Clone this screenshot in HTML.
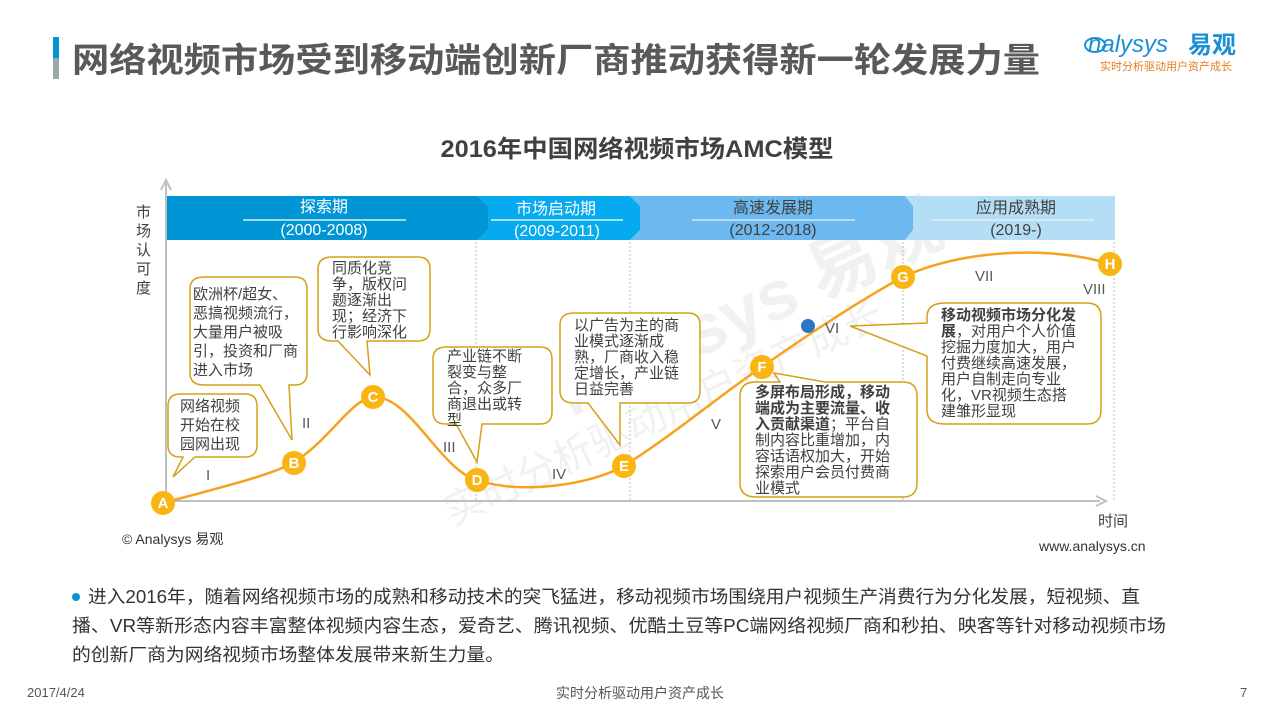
<!DOCTYPE html>
<html><head><meta charset="utf-8"><style>
body{margin:0;width:1280px;height:720px;background:#fff;overflow:hidden;font-family:"Liberation Sans","Noto Sans CJK SC",sans-serif;}
</style></head><body>
<svg width="1280" height="720" xmlns="http://www.w3.org/2000/svg" font-family="Liberation Sans, Noto Sans CJK SC, sans-serif">
<rect x="53" y="37" width="6" height="42" fill="#0096d6"/>
<rect x="53" y="58" width="6" height="21" fill="#9aa"/>
<text x="72" y="72" font-size="34" font-weight="bold" fill="#595959" textLength="968" lengthAdjust="spacingAndGlyphs">网络视频市场受到移动端创新厂商推动获得新一轮发展力量</text>
<text x="1088" y="52" font-size="24" fill="#1a8fd8" font-style="italic">nalysys</text>
<ellipse cx="1095" cy="45" rx="10" ry="7" fill="none" stroke="#1a8fd8" stroke-width="2"/>
<text x="1188" y="53" font-size="24" font-weight="bold" fill="#1a8fd8">易观</text>
<text x="1100" y="70" font-size="11" fill="#e87d1e">实时分析驱动用户资产成长</text>

<text x="637" y="157" text-anchor="middle" font-size="24" font-weight="bold" fill="#404040" textLength="393" lengthAdjust="spacingAndGlyphs">2016年中国网络视频市场AMC模型</text>

<!-- watermark -->
<g fill="#ececec" opacity="0.7">
<text x="540" y="380" font-size="70" font-weight="bold" transform="rotate(-25 640 330)">nalysys 易观</text>
<text x="420" y="480" font-size="40" transform="rotate(-25 540 430)">实时分析驱动用户资产成长</text>
</g>

<g font-size="15" fill="#404040"><text x="136" y="217">市</text><text x="136" y="236">场</text><text x="136" y="255">认</text><text x="136" y="274">可</text><text x="136" y="293">度</text></g>

<path d="M905 196 H1115 V240 H905 L913 230 V206 Z" fill="#b3def5"/>
<path d="M630 196 H905 L913 206 V230 L905 240 H630 L640 230 V206 Z" fill="#6cb9f2"/>
<path d="M478 196 H630 L640 206 V230 L630 240 H478 L488 230 V206 Z" fill="#06aaef"/>
<path d="M167 196 H478 L488 206 V230 L478 240 H167 Z" fill="#0096d6"/>
<g fill="#fff" font-size="16" text-anchor="middle">
<text x="324" y="212">探索期</text><text x="324" y="235">(2000-2008)</text>
<text x="556" y="214">市场启动期</text><text x="557" y="236">(2009-2011)</text>
</g>
<g fill="#404040" font-size="16" text-anchor="middle">
<text x="773" y="213">高速发展期</text><text x="773" y="235">(2012-2018)</text>
<text x="1016" y="213">应用成熟期</text><text x="1016" y="235">(2019-)</text>
</g>
<g stroke="#fff" stroke-width="1.2"><line x1="243" y1="220" x2="406" y2="220"/><line x1="491" y1="220" x2="623" y2="220"/></g>
<g stroke="#eee" stroke-width="1.2"><line x1="692" y1="220" x2="855" y2="220"/><line x1="931" y1="220" x2="1094" y2="220"/></g>

<g stroke="#bbb" stroke-dasharray="2 2"><line x1="476" y1="242" x2="476" y2="500"/><line x1="630" y1="242" x2="630" y2="500"/><line x1="903" y1="242" x2="903" y2="500"/><line x1="1114" y1="242" x2="1114" y2="500"/></g>

<line x1="166" y1="180" x2="166" y2="502" stroke="#bfbfbf" stroke-width="2"/>
<line x1="166" y1="501" x2="1100" y2="501" stroke="#bfbfbf" stroke-width="2"/>
<path d="M1096 496 L1106 501 L1096 506" fill="none" stroke="#bfbfbf" stroke-width="2"/>
<path d="M161 190 L166 180 L171 190" fill="none" stroke="#bfbfbf" stroke-width="2"/>
<text x="1098" y="526" font-size="15" fill="#404040">时间</text>

<path d="M163,503 C230,485 270,475 293,463 C330,440 350,400 373,397 C410,395 440,470 477,480 C520,495 590,485 624,466 C680,430 720,395 762,367 C800,340 860,300 903,277 C960,250 1050,245 1110,264" fill="none" stroke="#f7a21b" stroke-width="2.5"/>

<g font-size="15" fill="#595959"><text x="206" y="480">I</text><text x="302" y="428">II</text><text x="443" y="452">III</text><text x="552" y="479">IV</text><text x="711" y="429">V</text><text x="825" y="333">VI</text><text x="975" y="281">VII</text><text x="1083" y="294">VIII</text></g>

<g fill="#fff" stroke="#d4a017" stroke-width="1.5">
<path d="M180 394 H245 Q257 394 257 406 V445 Q257 457 245 457 H195 L173 477 L183 457 H180 Q168 457 168 445 V406 Q168 394 180 394 Z"/>
<path d="M204 277 H295 Q307 277 307 289 V373 Q307 385 295 385 H289 L292 440 L260 385 H204 Q190 385 190 373 V289 Q190 277 204 277 Z"/>
<path d="M332 257 H418 Q430 257 430 269 V329 Q430 341 418 341 H367 L370 375 L338 341 H332 Q318 341 318 329 V269 Q318 257 332 257 Z"/>
<path d="M446 347 H540 Q552 347 552 359 V412 Q552 424 540 424 H482 L477 462 L456 424 H446 Q433 424 433 412 V359 Q433 347 446 347 Z"/>
<path d="M574 313 H688 Q700 313 700 325 V391 Q700 403 688 403 H620 L620 445 L588 403 H574 Q560 403 560 391 V325 Q560 313 574 313 Z"/>
<path d="M756 382 H780 L774 373 L825 382 H903 Q917 382 917 396 V483 Q917 497 903 497 H756 Q740 497 740 483 V396 Q740 382 756 382 Z"/>
<path d="M945 303 H1087 Q1101 303 1101 317 V410 Q1101 424 1087 424 H945 Q927 424 927 410 V356 L850 326 L927 323 V317 Q927 303 945 303 Z"/>
</g>
<g font-size="15" fill="#404040">
<text x="180" y="411">网络视频</text><text x="180" y="430">开始在校</text><text x="180" y="449">园网出现</text>
<text x="193" y="299">欧洲杯/超女、</text><text x="193" y="318">恶搞视频流行，</text><text x="193" y="337">大量用户被吸</text><text x="193" y="356">引，投资和厂商</text><text x="193" y="375">进入市场</text>
<text x="332" y="273">同质化竞</text><text x="332" y="289">争，版权问</text><text x="332" y="305">题逐渐出</text><text x="332" y="321">现；经济下</text><text x="332" y="337">行影响深化</text>
<text x="447" y="361">产业链不断</text><text x="447" y="377">裂变与整</text><text x="447" y="393">合，众多厂</text><text x="447" y="409">商退出或转</text><text x="447" y="425">型</text>
<text x="574" y="330">以广告为主的商</text><text x="574" y="346">业模式逐渐成</text><text x="574" y="362">熟，厂商收入稳</text><text x="574" y="378">定增长，产业链</text><text x="574" y="394">日益完善</text>
<text x="755" y="397" font-weight="bold">多屏布局形成，移动</text><text x="755" y="413" font-weight="bold">端成为主要流量、收</text><text x="755" y="429"><tspan font-weight="bold">入贡献渠道</tspan>；平台自</text><text x="755" y="445">制内容比重增加，内</text><text x="755" y="461">容话语权加大，开始</text><text x="755" y="477">探索用户会员付费商</text><text x="755" y="493">业模式</text>
<text x="941" y="320" font-weight="bold">移动视频市场分化发</text><text x="941" y="336"><tspan font-weight="bold">展</tspan>，对用户个人价值</text><text x="941" y="352">挖掘力度加大，用户</text><text x="941" y="368">付费继续高速发展，</text><text x="941" y="384">用户自制走向专业</text><text x="941" y="400">化，VR视频生态搭</text><text x="941" y="416">建雏形显现</text>
</g>

<g fill="#fbb512"><circle cx="163" cy="503" r="12"/><circle cx="294" cy="463" r="12"/><circle cx="373" cy="397" r="12"/><circle cx="477" cy="480" r="12"/><circle cx="624" cy="466" r="12"/><circle cx="762" cy="367" r="12"/><circle cx="903" cy="277" r="12"/><circle cx="1110" cy="264" r="12"/></g>
<circle cx="808" cy="326" r="7" fill="#2e75c5"/>
<g fill="#fff" font-size="15" font-weight="bold" text-anchor="middle"><text x="163" y="508">A</text><text x="294" y="468">B</text><text x="373" y="402">C</text><text x="477" y="485">D</text><text x="624" y="471">E</text><text x="762" y="372">F</text><text x="903" y="282">G</text><text x="1110" y="269">H</text></g>

<text x="122" y="544" font-size="14" fill="#333">© Analysys 易观</text>
<text x="1039" y="551" font-size="14" fill="#333">www.analysys.cn</text>

<circle cx="76" cy="597" r="4" fill="#0096d6"/>
<g font-size="18" fill="#333"><text x="88" y="603" textLength="1052" lengthAdjust="spacingAndGlyphs">进入2016年，随着网络视频市场的成熟和移动技术的突飞猛进，移动视频市场围绕用户视频生产消费行为分化发展，短视频、直</text>
<text x="72" y="632" textLength="1094" lengthAdjust="spacingAndGlyphs">播、VR等新形态内容丰富整体视频内容生态，爱奇艺、腾讯视频、优酷土豆等PC端网络视频厂商和秒拍、映客等针对移动视频市场</text>
<text x="72" y="661" textLength="432" lengthAdjust="spacingAndGlyphs">的创新厂商为网络视频市场整体发展带来新生力量。</text></g>
<g font-size="13" fill="#555"><text x="27" y="697">2017/4/24</text><text x="640" y="698" text-anchor="middle" font-size="14">实时分析驱动用户资产成长</text><text x="1240" y="697">7</text></g>
</svg>
</body></html>
